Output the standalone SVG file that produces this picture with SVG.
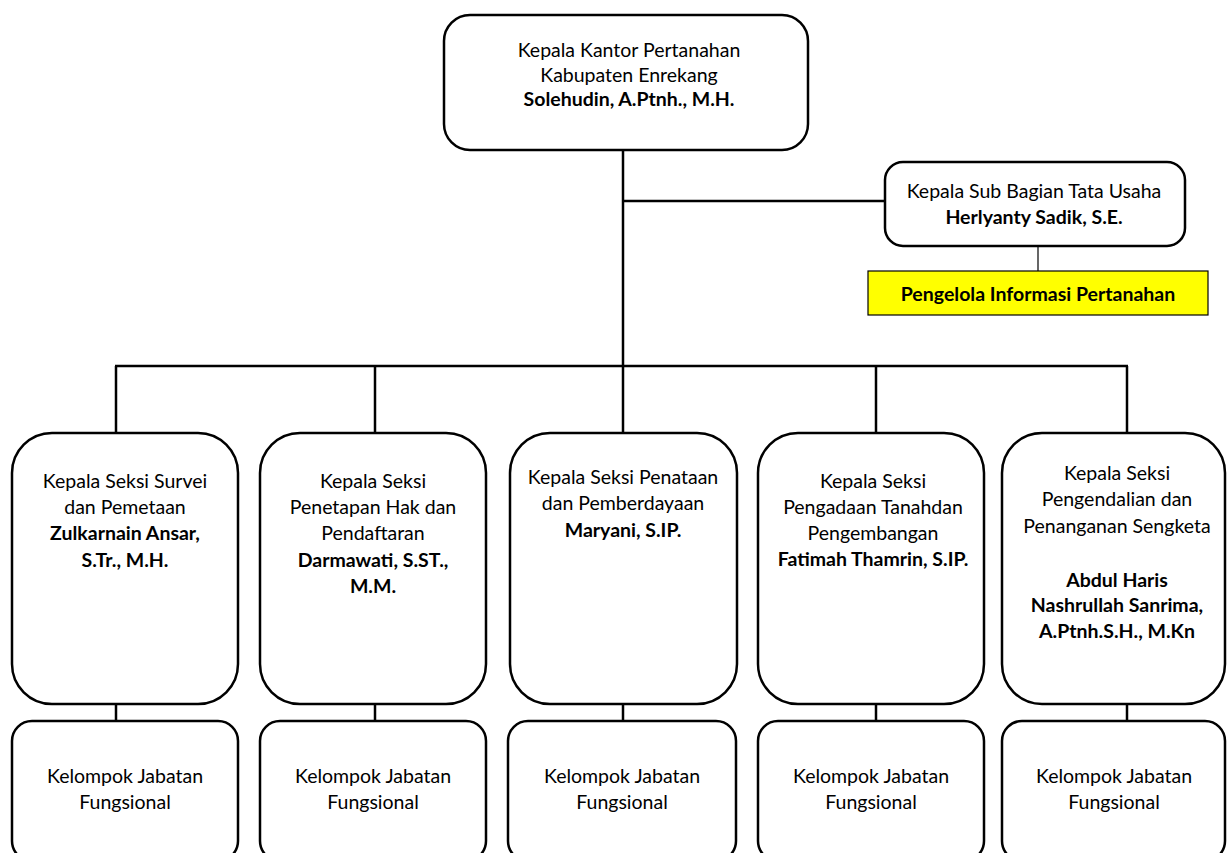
<svg xmlns="http://www.w3.org/2000/svg" width="1227" height="853" viewBox="0 0 1227 853">
<style>
.box{fill:#fff;stroke:#000;stroke-width:2.5}
.t{font-family:Lato,"Liberation Sans",sans-serif;font-size:19.5px;fill:#000;text-anchor:middle}
.b{font-weight:bold}
.ln{stroke:#000;stroke-width:2.5;fill:none}
.thin{stroke:#000;stroke-width:1.2;fill:none}
</style>
<rect width="1227" height="853" fill="#fff"/>
<g id="connectors">
<line class="ln" x1="623" y1="150" x2="623" y2="366"/>
<line class="ln" x1="623" y1="201" x2="885" y2="201"/>
<line class="thin" x1="1038" y1="246" x2="1038" y2="271"/>
<line class="ln" x1="115" y1="366" x2="1128" y2="366"/>
<line class="ln" x1="116" y1="366" x2="116" y2="433"/>
<line class="ln" x1="375" y1="366" x2="375" y2="433"/>
<line class="ln" x1="623" y1="366" x2="623" y2="433"/>
<line class="ln" x1="876" y1="366" x2="876" y2="433"/>
<line class="ln" x1="1127" y1="366" x2="1127" y2="433"/>
<line class="ln" x1="116" y1="704" x2="116" y2="721"/>
<line class="ln" x1="375" y1="704" x2="375" y2="721"/>
<line class="ln" x1="623" y1="704" x2="623" y2="721"/>
<line class="ln" x1="876" y1="704" x2="876" y2="721"/>
<line class="ln" x1="1127" y1="704" x2="1127" y2="721"/>
</g>
<g id="kepala-kantor">
<rect class="box" x="444" y="15" width="364" height="135" rx="26"/>
<text class="t" x="629" y="57">Kepala Kantor Pertanahan</text>
<text class="t" x="629" y="82">Kabupaten Enrekang</text>
<text class="t b" x="629" y="106">Solehudin, A.Ptnh., M.H.</text>
</g>
<g id="subbag-tu">
<rect class="box" x="885" y="162" width="300" height="84" rx="18"/>
<text class="t" x="1034" y="198">Kepala Sub Bagian Tata Usaha</text>
<text class="t b" x="1034" y="224">Herlyanty Sadik, S.E.</text>
</g>
<g id="pengelola-info">
<rect x="868" y="271" width="340" height="44" fill="#ffff00" stroke="#000" stroke-width="1.2"/>
<text class="t b" x="1038" y="301">Pengelola Informasi Pertanahan</text>
</g>
<g id="seksi-survei">
<rect class="box" x="12" y="433" width="226" height="271" rx="40"/>
<text class="t" x="125" y="488">Kepala Seksi Survei</text>
<text class="t" x="125" y="514">dan Pemetaan</text>
<text class="t b" x="125" y="540">Zulkarnain Ansar,</text>
<text class="t b" x="125" y="567">S.Tr., M.H.</text>
</g>
<g id="seksi-penetapan">
<rect class="box" x="260" y="433" width="226" height="271" rx="40"/>
<text class="t" x="373" y="488">Kepala Seksi</text>
<text class="t" x="373" y="514">Penetapan Hak dan</text>
<text class="t" x="373" y="540">Pendaftaran</text>
<text class="t b" x="373" y="567">Darmawati, S.ST.,</text>
<text class="t b" x="373" y="593">M.M.</text>
</g>
<g id="seksi-penataan">
<rect class="box" x="510" y="433" width="227" height="271" rx="40"/>
<text class="t" x="623" y="484">Kepala Seksi Penataan</text>
<text class="t" x="623" y="510">dan Pemberdayaan</text>
<text class="t b" x="623" y="537">Maryani, S.IP.</text>
</g>
<g id="seksi-pengadaan">
<rect class="box" x="758" y="433" width="226" height="271" rx="40"/>
<text class="t" x="873" y="488">Kepala Seksi</text>
<text class="t" x="873" y="514">Pengadaan Tanahdan</text>
<text class="t" x="873" y="540">Pengembangan</text>
<text class="t b" x="873" y="566">Fatimah Thamrin, S.IP.</text>
</g>
<g id="seksi-pengendalian">
<rect class="box" x="1002" y="433" width="223" height="271" rx="40"/>
<text class="t" x="1117" y="480">Kepala Seksi</text>
<text class="t" x="1117" y="506">Pengendalian dan</text>
<text class="t" x="1117" y="533">Penanganan Sengketa</text>
<text class="t b" x="1117" y="587">Abdul Haris</text>
<text class="t b" x="1117" y="612">Nashrullah Sanrima,</text>
<text class="t b" x="1117" y="638">A.Ptnh.S.H., M.Kn</text>
</g>
<g id="jf-1">
<rect class="box" x="12" y="721" width="226" height="140" rx="20"/>
<text class="t" x="125" y="783">Kelompok Jabatan</text>
<text class="t" x="125" y="809">Fungsional</text>
</g>
<g id="jf-2">
<rect class="box" x="260" y="721" width="226" height="140" rx="20"/>
<text class="t" x="373" y="783">Kelompok Jabatan</text>
<text class="t" x="373" y="809">Fungsional</text>
</g>
<g id="jf-3">
<rect class="box" x="508" y="721" width="228" height="140" rx="20"/>
<text class="t" x="622" y="783">Kelompok Jabatan</text>
<text class="t" x="622" y="809">Fungsional</text>
</g>
<g id="jf-4">
<rect class="box" x="758" y="721" width="226" height="140" rx="20"/>
<text class="t" x="871" y="783">Kelompok Jabatan</text>
<text class="t" x="871" y="809">Fungsional</text>
</g>
<g id="jf-5">
<rect class="box" x="1002" y="721" width="223" height="140" rx="20"/>
<text class="t" x="1114" y="783">Kelompok Jabatan</text>
<text class="t" x="1114" y="809">Fungsional</text>
</g>
</svg>
